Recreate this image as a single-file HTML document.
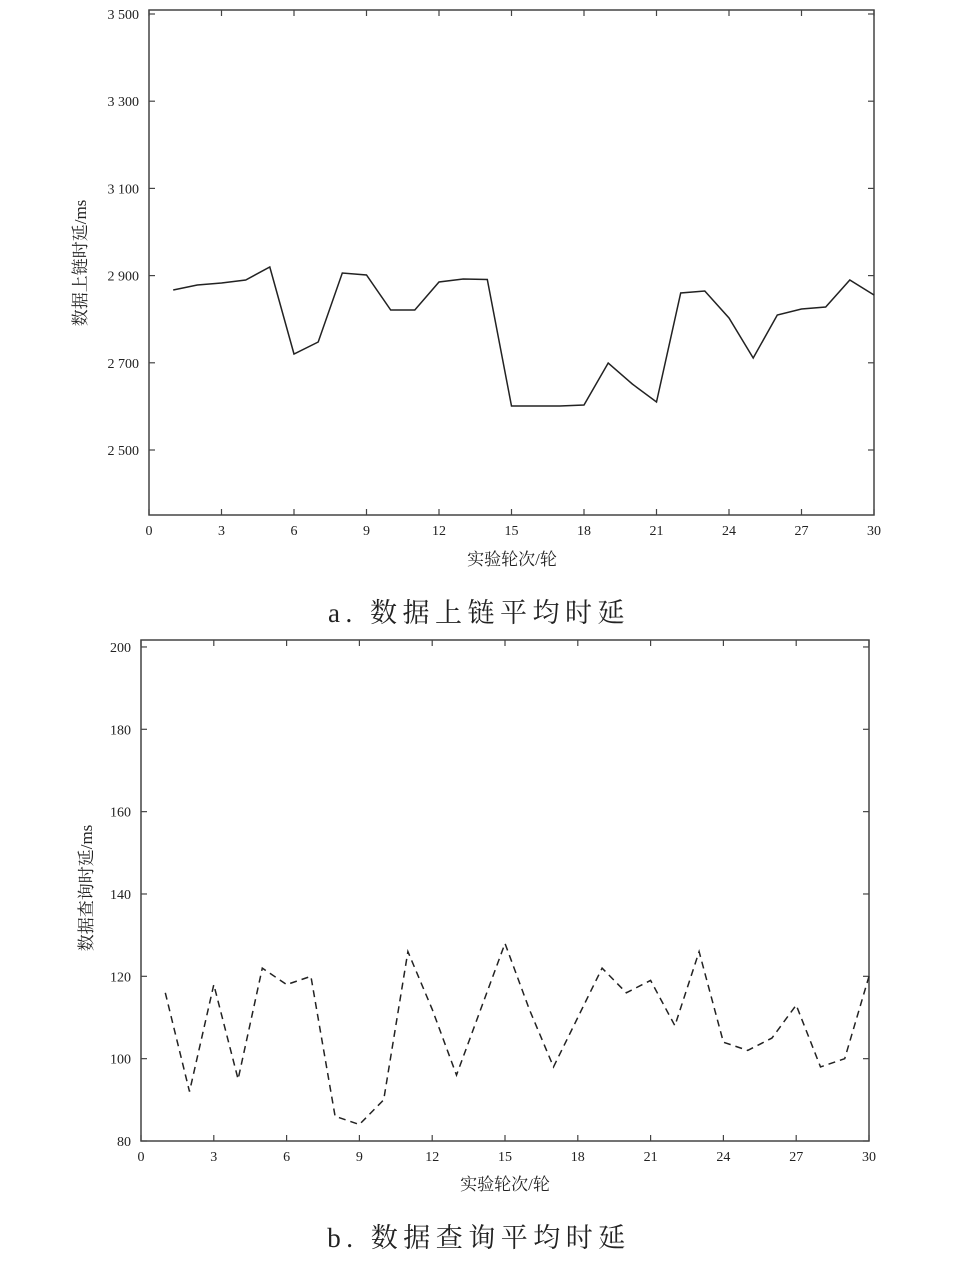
<!DOCTYPE html>
<html><head><meta charset="utf-8"><style>
html,body{margin:0;padding:0;background:#fff;}
svg text{font-family:"Liberation Serif","Noto Serif CJK SC",serif;fill:#222;}
</style></head><body>
<svg id="s" width="953" height="1261" viewBox="0 0 953 1261" xmlns="http://www.w3.org/2000/svg">
<text x="479" y="622" font-size="27" text-anchor="middle" letter-spacing="5.5">a. 数据上链平均时延</text>
<text x="479" y="1247" font-size="27" text-anchor="middle" letter-spacing="5.5">b. 数据查询平均时延</text>
<text transform="translate(86,263) rotate(-90)" font-size="17" text-anchor="middle">数据上链时延/ms</text>
<text transform="translate(92,888) rotate(-90)" font-size="17" text-anchor="middle">数据查询时延/ms</text>
<text x="512" y="565" font-size="17" text-anchor="middle">实验轮次/轮</text>
<text x="505" y="1190" font-size="17" text-anchor="middle">实验轮次/轮</text>
</svg>
<script>
var s=document.getElementById('s'),NS='http://www.w3.org/2000/svg';
function el(t,a,txt){var e=document.createElementNS(NS,t);for(var k in a)e.setAttribute(k,a[k]);if(txt!=null)e.textContent=txt;s.appendChild(e);return e;}
function chart(L,R,T,B,ymin,ymax,yt,fmt,data,dash){
  function X(i){return L+(R-L)*i/30;}
  function Y(v){return B-(B-T)*(v-ymin)/(ymax-ymin);}
  el('rect',{x:L,y:T,width:R-L,height:B-T,fill:'none',stroke:'#444','stroke-width':1.5});
  for(var i=0;i<=30;i+=3){var x=X(i);
    el('line',{x1:x,y1:B,x2:x,y2:B-6,stroke:'#444','stroke-width':1.2});
    el('line',{x1:x,y1:T,x2:x,y2:T+6,stroke:'#444','stroke-width':1.2});
    el('text',{x:x,y:B+20,'font-size':14,'text-anchor':'middle'},''+i);}
  yt.forEach(function(v){var y=Y(v);
    el('line',{x1:L,y1:y,x2:L+6,y2:y,stroke:'#444','stroke-width':1.2});
    el('line',{x1:R,y1:y,x2:R-6,y2:y,stroke:'#444','stroke-width':1.2});
    el('text',{x:L-10,y:y+5,'font-size':14,'text-anchor':'end'},fmt(v));});
  var p=data.map(function(v,i){return X(i+1).toFixed(1)+','+Y(v).toFixed(1);}).join(' ');
  var a={points:p,fill:'none',stroke:'#222','stroke-width':1.5};
  if(dash)a['stroke-dasharray']='7,5';
  el('polyline',a);
}
var A=[290,285,283,280,267,354,342,273,275,310,310,282,279,279.5,406,406,406,405,363,384,402,293,291,318,358,315,309,307,280,295];
A=A.map(function(y){return 2500+(450-y)*200/87.2;});
chart(149,874,10,515,2500-(515-450)*200/87.2,2500+(450-10)*200/87.2,[2500,2700,2900,3100,3300,3500],function(v){return (''+v).replace(/^(\d)/,'$1 ');},A,false);
var Bd=[116,92,118,95,122,118,120,86,84,90,126,112,96,112,128,112,98,110,122,116,119,108,126,104,102,105,113,98,100,120];
chart(141,869,640,1141,80,80+(1141-640)/4.117,[80,100,120,140,160,180,200],function(v){return ''+v;},Bd,true);
</script>
</body></html>
